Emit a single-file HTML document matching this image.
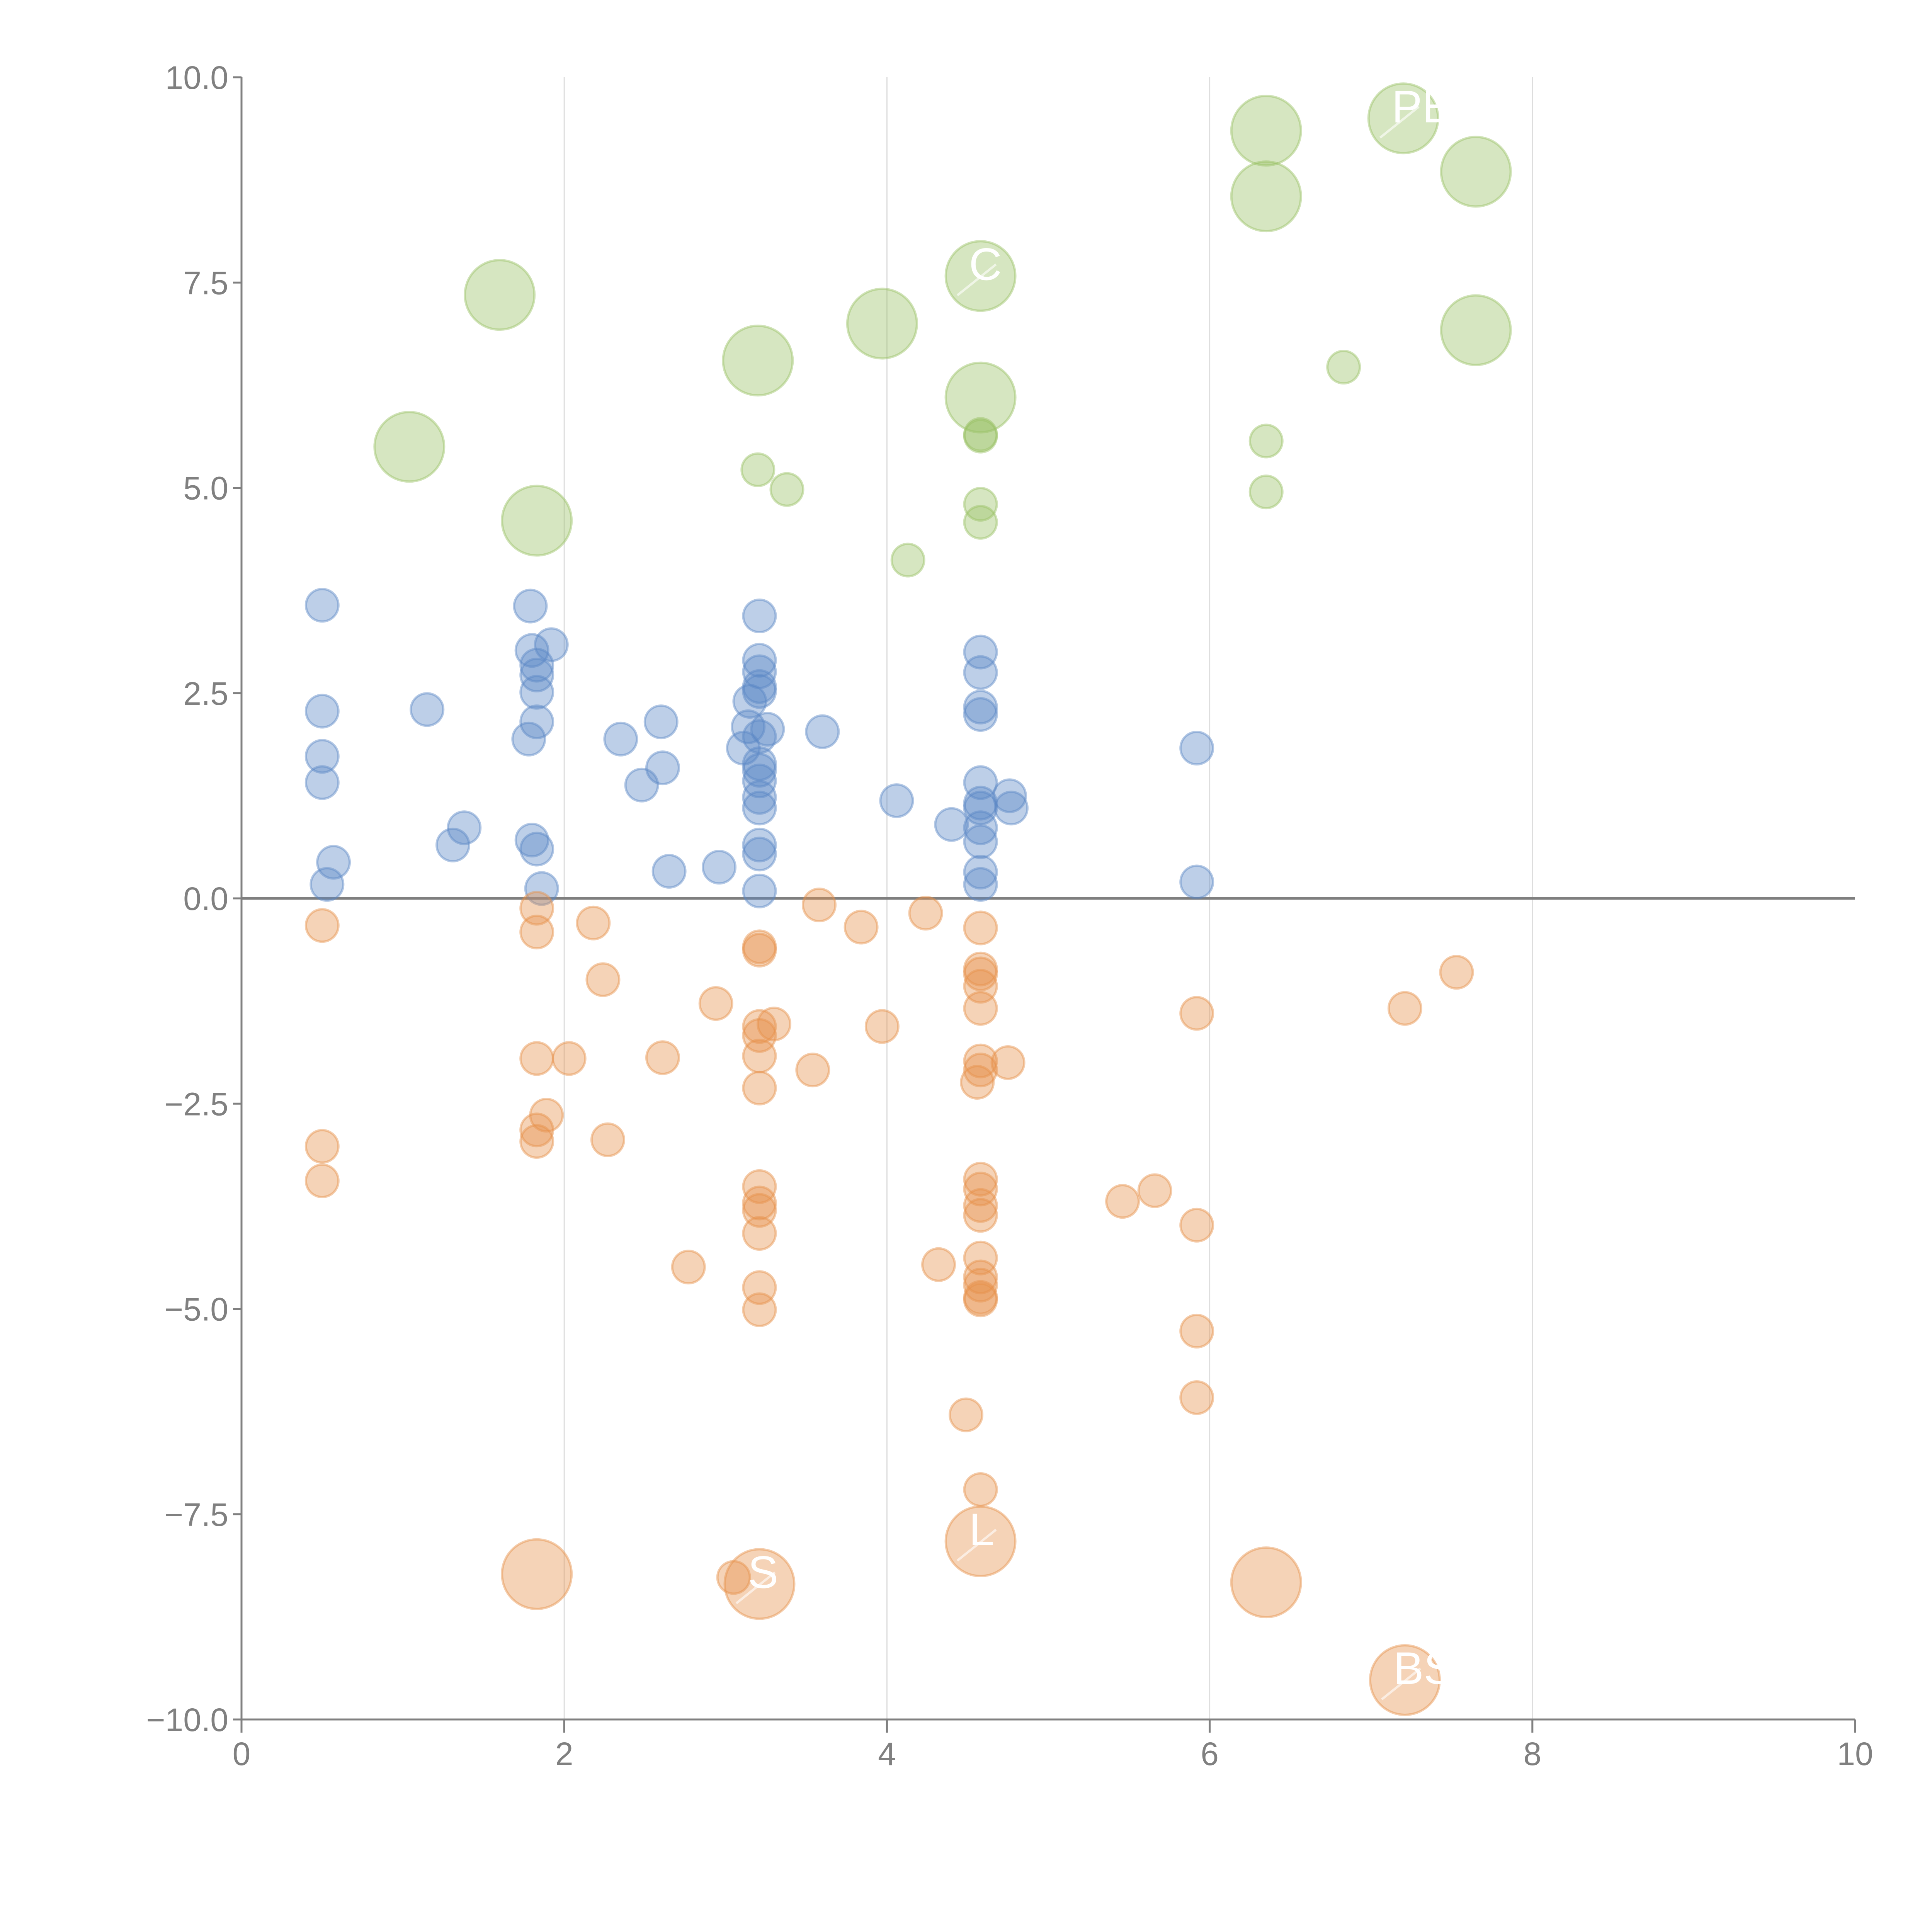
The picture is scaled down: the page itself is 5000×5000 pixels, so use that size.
<!DOCTYPE html>
<html><head><meta charset="utf-8"><style>
html,body{margin:0;padding:0;background:#fff;}
svg{display:block;font-family:"Liberation Sans",sans-serif;}
</style></head><body>
<svg id="chart" width="5000" height="5000" viewBox="0 0 5000 5000" xmlns="http://www.w3.org/2000/svg">
<g id="grid"></g>
<g id="axes"></g>
<g id="marks"></g>
<g id="labels"></g>
</svg>
<script>
const xTicks=[0,2,4,6,8,10];
const yTicks=[10,7.5,5,2.5,0,-2.5,-5,-7.5,-10];
const yTickLabels=["10.0","7.5","5.0","2.5","0.0","\u22122.5","\u22125.0","\u22127.5","\u221210.0"];
const greenX=[1.6,1.04,1.83,3.2,3.97,4.58,4.58,6.35,6.35,7.2,7.65,7.65,3.2,3.38,4.13,4.58,4.58,4.58,4.58,6.35,6.35,6.83];
const greenY=[7.35,5.5,4.6,6.55,7.0,7.58,6.1,9.35,8.55,9.5,8.85,6.92,5.22,4.98,4.12,5.65,5.63,4.8,4.58,5.57,4.95,6.47];
const greenBig=[1,1,1,1,1,1,1,1,1,1,1,1,0,0,0,0,0,0,0,0,0,0];
const blueX=[0.5,0.5,0.5,0.5,0.57,0.53,1.15,1.31,1.38,1.79,1.8,1.83,1.83,1.83,1.83,1.78,1.92,1.8,1.83,1.86,2.35,2.48,2.6,2.61,2.65,2.96,3.21,3.21,3.21,3.21,3.21,3.15,3.14,3.26,3.21,3.11,3.21,3.21,3.21,3.21,3.21,3.21,3.21,3.21,3.6,4.06,4.4,4.58,4.58,4.58,4.58,4.58,4.58,4.58,4.58,4.58,4.58,4.58,4.76,4.77,5.92,5.92];
const blueY=[3.57,2.28,1.73,1.41,0.44,0.17,2.3,0.65,0.86,3.56,3.02,2.84,2.72,2.51,2.15,1.94,3.09,0.71,0.6,0.12,1.94,1.38,2.15,1.59,0.33,0.38,3.44,2.9,2.76,2.58,2.52,2.4,2.09,2.06,1.97,1.83,1.64,1.56,1.43,1.23,1.1,0.65,0.54,0.09,2.03,1.19,0.9,3.0,2.75,2.33,2.24,1.41,1.16,1.1,0.86,0.69,0.32,0.17,1.25,1.1,1.83,0.2];
const orangeX=[0.5,0.5,0.5,1.83,1.83,2.18,2.24,1.83,2.03,1.89,1.83,1.83,2.27,2.61,2.77,2.94,3.21,3.21,3.21,3.21,3.3,3.21,3.21,3.21,3.21,3.21,3.21,3.21,3.21,3.58,3.84,3.54,3.97,4.24,4.32,4.49,4.58,4.58,4.58,4.58,4.58,4.58,4.58,4.56,4.75,4.58,4.58,4.58,4.58,4.58,4.58,4.58,4.58,4.58,4.58,5.46,5.66,5.92,5.92,5.92,5.92,7.21,7.53,3.05,1.83,3.21,4.58,6.35,7.21];
const orangeY=[-0.33,-3.02,-3.44,-0.12,-0.41,-0.3,-0.99,-1.95,-1.95,-2.64,-2.82,-2.96,-2.94,-1.94,-4.49,-1.28,-0.59,-0.63,-1.56,-1.67,-1.53,-1.92,-2.31,-3.51,-3.71,-3.8,-4.08,-4.74,-5.01,-0.08,-0.35,-2.09,-1.56,-0.18,-4.46,-6.29,-0.36,-0.86,-0.92,-1.07,-1.34,-1.98,-2.09,-2.24,-2.0,-3.42,-3.54,-3.74,-3.86,-4.38,-4.61,-4.71,-4.86,-4.89,-7.2,-3.69,-3.56,-1.4,-3.98,-5.27,-6.08,-1.34,-0.9,-8.27,-8.23,-8.35,-7.83,-8.33,-9.52];
const orangeBig=[0,0,0,0,0,0,0,0,0,0,0,0,0,0,0,0,0,0,0,0,0,0,0,0,0,0,0,0,0,0,0,0,0,0,0,0,0,0,0,0,0,0,0,0,0,0,0,0,0,0,0,0,0,0,0,0,0,0,0,0,0,0,0,0,1,1,1,1,1];
const labelText=["PE","BS","C","L","S"];
const labelX=[7.2,7.21,4.58,4.58,3.21];
const labelY=[9.5,-9.52,7.58,-7.83,-8.35];

const NS="http://www.w3.org/2000/svg";
const X0=625,X1=4801,Y0=4450,Y1=200;
function sx(v){return X0+(v-0)/(10-0)*(X1-X0);}
function sy(v){return Y0-(v+10)/20*(Y0-Y1);}
function mk(tag,attrs,parent){const e=document.createElementNS(NS,tag);for(const k in attrs)e.setAttribute(k,attrs[k]);parent.appendChild(e);return e;}
const grid=document.getElementById('grid'),axes=document.getElementById('axes'),marks=document.getElementById('marks'),labels=document.getElementById('labels');
const AX="#808080";
xTicks.forEach(function(t){
  if(t>0&&t<10){
    const g=mk('line',{x1:sx(t),x2:sx(t),y1:Y1,y2:Y0,stroke:'#dddddd','stroke-width':3},grid);
    
    
  }
  const tk=mk('line',{x1:sx(t),x2:sx(t),y1:Y0,y2:Y0+34,stroke:AX,'stroke-width':5},axes);
  
  
  const tx=mk('text',{x:sx(t),y:Y0+118,'text-anchor':'middle','font-size':84,fill:AX},axes);
  tx.textContent=String(t);
  
  
});
yTicks.forEach(function(t,i){
  const tk=mk('line',{x1:X0-22,x2:X0,y1:sy(t),y2:sy(t),stroke:AX,'stroke-width':5},axes);
  
  
  const tx=mk('text',{x:X0-34,y:sy(t)+30,'text-anchor':'end','font-size':84,fill:AX},axes);
  tx.textContent=yTickLabels[i];
  
  
});
const ya=mk('line',{x1:X0,x2:X0,y1:Y1,y2:Y0+34,stroke:AX,'stroke-width':5},axes);


const xa=mk('line',{x1:X0-22,x2:X1,y1:Y0,y2:Y0,stroke:AX,'stroke-width':5},axes);


const zl=mk('line',{x1:X0,x2:X1,y1:sy(0),y2:sy(0),stroke:'#7f7f7f','stroke-width':7},axes);



function drawSeries(xs,ys,bigs,color,name){
  xs.forEach(function(x,i){
    const big=bigs?bigs[i]:0;
    const c=mk('circle',{cx:sx(x),cy:sy(ys[i]),r:big?90:42,fill:color,'fill-opacity':0.4,stroke:color,'stroke-opacity':0.45,'stroke-width':6},marks);
    
    
  });
}
drawSeries(greenX,greenY,greenBig,'#98c164','green-bubble');
drawSeries(blueX,blueY,null,'#5a87c5','blue-bubble');
drawSeries(orangeX,orangeY,orangeBig,'#e6914a','orange-bubble');

labelText.forEach(function(t,i){
  const cx=sx(labelX[i]),cy=sy(labelY[i]);
  const ln=mk('line',{x1:cx-60,y1:cy+50,x2:cx+40,y2:cy-30,stroke:'#ffffff','stroke-opacity':0.6,'stroke-width':6},labels);
  
  
  const tx=mk('text',{x:cx-30,y:cy+10,'font-size':118,fill:'#ffffff'},labels);
  tx.textContent=t;
  
  
});
</script>
</body></html>
